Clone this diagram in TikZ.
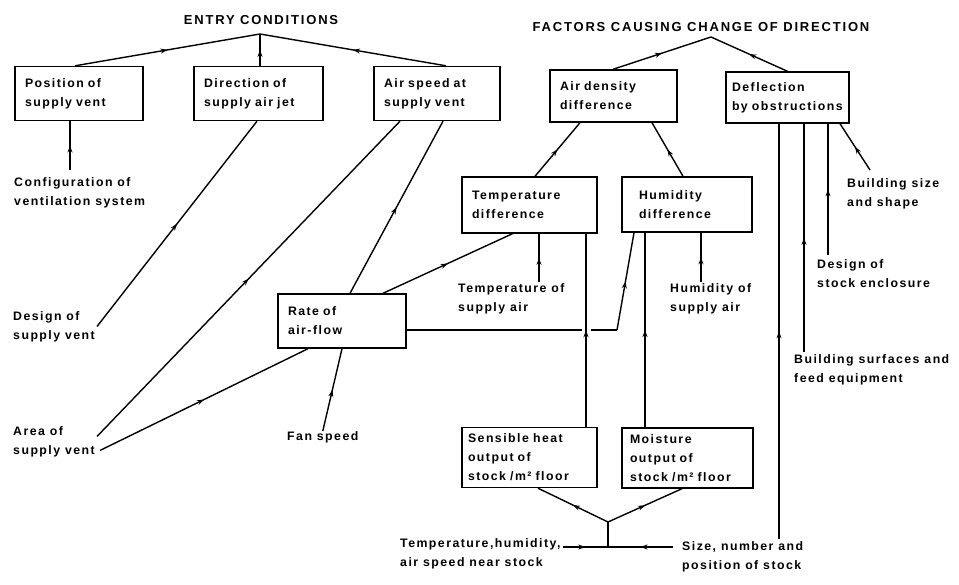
\documentclass[tikz,border=0pt]{standalone}
\usepackage{fontspec}
\newfontfamily\labelfont[LetterSpace=12]{Liberation Sans}
\newfontfamily\headfont[LetterSpace=14]{Liberation Sans}
\usetikzlibrary{arrows.meta,decorations.markings}

\begin{document}
\begin{tikzpicture}[x=1pt,y=-1pt]

\tikzstyle{every node}=[font=\labelfont\bfseries\fontsize{12.3}{19}\selectfont]
\tikzstyle{Box}=[draw,line width=1.4pt,text width=108pt,inner xsep=10pt,minimum height=54pt,align=left]
\tikzstyle{Factor}=[inner sep=0pt,anchor=north west,align=left]
\tikzstyle{Heading}=[font=\headfont\bfseries\fontsize{13}{15}\selectfont]
\tikzstyle{Link}=[line width=1.4pt]
\tikzstyle{Flow}=[Link,decoration={markings,mark=at position 0.5 with {\arrow{Stealth[length=7pt,width=5pt]}}},postaction={decorate}]

\useasboundingbox (0,0) rectangle (959,585);

  \node[Heading] (entry) at (261,20) {ENTRY CONDITIONS};
  \node[Heading] (factors) at (701,27) {FACTORS CAUSING CHANGE OF DIRECTION};
  \coordinate (ea) at (260,34);
  \coordinate (fa) at (711,37);

  \node[Box] (pos) at (79,93.5) {Position of\\supply vent};
  \node[Box,text width=109pt] (dir) at (258.5,93.5) {Direction of\\supply air jet};
  \node[Box,text width=106pt] (air) at (437,93.5) {Air speed at\\supply vent};
  \node[Box,text width=107pt,minimum height=52pt] (dens) at (613.5,96) {Air density\\difference};
  \node[Box,text width=111pt,inner xsep=6pt,minimum height=51pt] (defl) at (787.5,97.5) {Deflection\\by obstructions};
  \node[Box,text width=115pt,minimum height=56pt] (tdiff) at (529.5,205) {Temperature\\difference};
  \node[Box,text width=96pt,inner xsep=17pt,minimum height=55pt] (hdiff) at (687,204.5) {Humidity\\difference};
  \node[Box] (rate) at (342,321) {Rate of\\air-flow};
  \node[Box,text width=123pt,inner xsep=6pt,minimum height=60pt] (sens) at (529.5,457.5) {Sensible heat\\output of\\stock /m² floor};
  \node[Box,text width=115pt,inner xsep=8pt,minimum height=60pt] (moist) at (687.5,458) {Moisture\\output of\\stock /m² floor};

  \node[Factor] (cfg) at (14,177) {Configuration of\\ventilation system};
  \node[Factor] (dsv) at (13,311) {Design of\\supply vent};
  \node[Factor] (asv) at (13,426) {Area of\\supply vent};
  \node[Factor] (fan) at (287,431) {Fan speed};
  \node[Factor] (tsa) at (458,283) {Temperature of\\supply air};
  \node[Factor] (hsa) at (670,283) {Humidity of\\supply air};
  \node[Factor] (bss) at (847,178) {Building size\\and shape};
  \node[Factor] (dse) at (817,259) {Design of\\stock enclosure};
  \node[Factor] (bsf) at (794,354) {Building surfaces and\\feed equipment};
  \node[Factor] (thn) at (400,538) {Temperature,humidity,\\air speed near stock};
  \node[Factor] (sza) at (682,541) {Size, number and\\position of stock};

% entry conditions
\draw[Flow] ([xshift=-4pt]pos.north) -- (ea);
\draw[Flow] ([xshift=1.5pt]dir.north) -- (ea);
\draw[Flow] ([xshift=9pt]air.north) -- (ea);
\draw[Flow] ([xshift=-9pt,yshift=7pt]pos.south |- cfg.north) -- ([xshift=-9pt]pos.south);
\draw[Flow] ([xshift=2pt]dsv.east) -- ([xshift=-1.5pt]dir.south);
\draw[Flow] ([xshift=2pt,yshift=5pt]asv.east) -- ([xshift=-37pt]air.south);
\draw[Flow] ([xshift=5pt,yshift=-9pt]asv.east) -- ([xshift=-34pt]rate.south);
\draw[Flow] ([xshift=8pt]rate.north) -- ([xshift=6pt]air.south);
\draw[Flow] (fan.north) -- (rate.south);
\draw[Flow] ([xshift=41pt]rate.north) -- ([xshift=-17pt]tdiff.south);
\coordinate (rh) at (617,330);
\draw[Link] ([yshift=-9pt]rate.east) -- (rh);
\draw[Flow] (rh) -- ([xshift=-53pt]hdiff.south);

% factors causing change of direction
\draw[Flow] ([xshift=-0.5pt]dens.north) -- (fa);
\draw[Flow] (defl.north) -- (fa);
\draw[Flow] ([xshift=5.5pt]tdiff.north) -- ([xshift=-33.5pt]dens.south);
\draw[Flow] ([xshift=-4pt]hdiff.north) -- ([xshift=38.5pt]dens.south);
\draw[Flow] ([xshift=9.5pt,yshift=1pt]tdiff.south |- tsa.north) -- ([xshift=9.5pt]tdiff.south);
\draw[Flow] ([xshift=14pt,yshift=1pt]hdiff.south |- hsa.north) -- ([xshift=14pt]hdiff.south);
\draw[Flow,preaction={draw=white,line width=9pt,shorten <=10pt,shorten >=10pt}] ([xshift=56.5pt]sens.north) -- ([xshift=56.5pt]tdiff.south);
\draw[Flow] ([xshift=-42.5pt]moist.north) -- ([xshift=-42pt]hdiff.south);
\draw[Flow] ([xshift=-8.5pt,yshift=2pt]defl.south |- sza.north) -- ([xshift=-8.5pt]defl.south);
\draw[Flow] ([xshift=16.5pt,yshift=2pt]defl.south |- bsf.north) -- ([xshift=16.5pt]defl.south);
\draw[Flow] ([xshift=40.5pt,yshift=4pt]defl.south |- dse.north) -- ([xshift=40.5pt]defl.south);
\draw[Flow] ([xshift=23pt,yshift=8pt]bss.north west) -- ([xshift=52.5pt]defl.south);

% stock
\coordinate (jn) at (608,522);
\coordinate (jb) at (608,547);
\draw[Flow] (jn) -- ([xshift=8.5pt]sens.south);
\draw[Flow] (jn) -- ([xshift=-5.5pt]moist.south);
\draw[Link] (jb) -- (jn);
\draw[Flow] ([xshift=2pt,yshift=-9pt]thn.north east) -- (jb);
\draw[Flow] ([xshift=-9pt,yshift=-6pt]sza.north west) -- (jb);
\end{tikzpicture}
\end{document}
